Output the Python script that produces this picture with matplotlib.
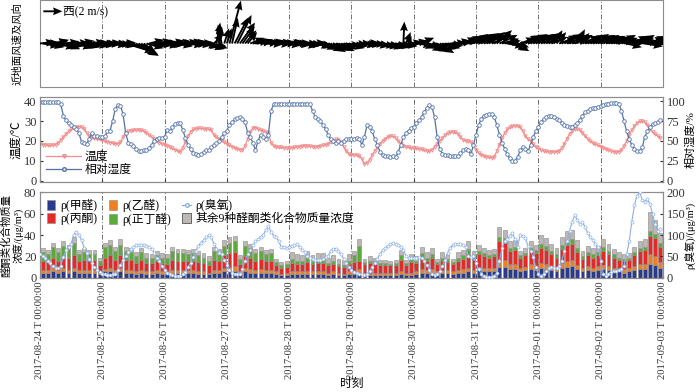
import numpy as np
import matplotlib
matplotlib.use("Agg")
import matplotlib.pyplot as plt
from matplotlib.patches import Patch
from matplotlib.lines import Line2D

plt.rcParams['font.family'] = ['Liberation Serif', 'Noto Sans CJK SC', 'DejaVu Sans']
plt.rcParams['axes.unicode_minus'] = False

days = ['2017-08-24', '2017-08-25', '2017-08-26', '2017-08-27', '2017-08-28',
        '2017-08-29', '2017-08-30', '2017-08-31', '2017-09-01', '2017-09-02', '2017-09-03']
tick_labels = [d + ' T 00:00:00' for d in days]

# hourly near-surface wind (m/s)
wind_u = [1.6,1.8,1.5,1.7,1.9,1.6,1.4,1.8,2.0,1.7,1.5,1.8,1.9,2.0,1.7,1.6,1.8,1.9,1.5,1.7,1.8,1.6,1.9,1.7,
          1.6,1.7,1.5,1.8,1.6,1.7,1.9,1.5,1.4,3.0,3.0,2.8,2.6,2.4,2.0,1.6,1.2,1.8,1.6,1.5,1.9,1.7,1.6,1.8,
          1.5,1.7,1.6,1.4,1.8,1.6,1.5,1.7,1.9,1.6,1.8,1.5,1.7,1.6,1.8,1.7,1.9,2.0,1.6,1.0,0.4,0.3,-0.4,0.5,
          0.5,1.2,0.6,1.4,1.5,1.6,1.3,1.2,1.0,1.5,1.7,1.8,1.6,1.9,1.7,1.8,1.6,1.5,1.8,1.7,1.9,1.6,1.8,1.7,
          1.6,1.8,1.7,1.5,1.9,1.7,1.8,1.6,1.7,1.9,1.8,1.6,1.7,1.9,1.8,1.7,1.6,1.8,1.9,1.7,1.6,1.8,1.9,1.7,
          1.7,1.5,1.6,1.8,1.7,1.6,1.5,1.7,1.8,1.6,1.9,2.0,1.8,1.9,2.0,1.8,1.9,1.7,2.0,1.8,0.1,0.5,0.3,1.2,
          1.5,1.7,1.6,1.4,1.8,1.6,1.5,1.7,1.6,1.8,1.7,1.9,1.8,1.6,1.7,1.9,1.8,2.0,1.9,1.8,1.7,1.9,1.8,1.6,
          1.8,1.7,1.9,1.6,1.8,1.7,2.0,1.8,1.6,1.9,1.8,1.7,1.8,1.9,1.6,1.5,1.2,1.6,1.8,1.7,1.9,1.8,1.7,1.9,
          1.7,1.9,1.8,1.6,1.8,1.7,0.9,1.0,1.8,1.7,1.9,1.8,1.6,1.7,1.9,0.8,1.0,1.8,1.7,1.9,1.8,1.7,1.9,1.8,
          1.8,1.7,1.9,1.8,1.6,1.7,1.9,1.8,1.7,1.9,1.6,1.8,1.7,1.9,1.8,1.6,1.7,1.9,1.8,1.7,1.6,1.9,1.8,1.7]
wind_v = [0.2,-0.3,0.1,-0.4,0.3,-0.2,0.4,-0.5,-0.3,0.2,-0.6,-0.2,0.1,-0.4,-0.5,0.3,-0.3,-0.2,-0.4,0.2,-0.3,0.1,-0.2,0.0,
          0.0,-0.1,0.1,-0.2,0.0,-0.1,0.1,-0.2,-0.3,-0.9,-1.0,-1.1,-1.2,-1.3,-1.2,-1.1,-0.9,-0.5,0.4,-0.3,0.3,-0.2,0.2,-0.3,
          0.1,-0.2,0.3,-0.1,0.2,-0.3,0.1,0.2,-0.2,0.3,-0.1,0.2,-0.2,0.1,-0.3,-0.4,-0.6,-0.5,-0.3,1.0,2.2,1.8,2.0,1.6,
          1.6,4.5,2.7,2.7,3.0,2.2,1.8,1.4,1.2,0.6,0.3,0.2,0.4,0.1,0.2,-0.1,0.2,0.3,-0.1,0.2,0.0,0.1,-0.2,0.1,
          0.2,0.0,-0.2,0.1,-0.3,0.0,-0.2,-0.1,0.1,-0.3,-0.2,-0.4,-0.6,-0.5,-0.8,-0.6,-0.9,-0.7,-0.5,-0.8,-0.6,-0.3,-0.5,-0.4,
          -0.1,-0.3,0.0,-0.2,-0.1,0.1,-0.2,-0.1,-0.3,-0.2,-0.3,-0.4,-0.3,-0.5,-0.4,-0.3,-0.4,-0.2,-0.3,-0.1,2.3,1.2,0.8,0.2,
          0.3,-0.2,0.6,-0.5,-0.3,-0.8,-0.6,-0.9,-0.7,-1.0,-0.6,-0.5,-0.3,-0.2,0.1,0.3,0.2,0.5,0.4,0.6,0.8,0.5,0.7,1.0,
          1.0,0.8,1.1,0.7,0.9,1.2,0.8,1.0,1.4,0.9,0.5,0.3,-0.3,-0.5,-0.6,-0.8,-0.4,0.6,0.8,0.9,0.7,1.0,0.8,0.9,
          1.0,0.9,1.1,0.8,1.0,0.7,1.4,1.2,0.6,0.9,1.0,0.7,0.8,0.5,0.9,1.5,1.1,0.8,0.6,0.9,0.7,1.0,0.8,0.9,
          0.7,0.9,0.6,0.8,0.5,0.7,0.4,0.9,0.6,0.3,-0.4,0.2,0.8,0.5,0.6,0.9,0.3,-0.3,0.6,0.8,0.4,-0.2,0.5,0.6]

# hourly temperature (degC) and relative humidity (%)
temp = [18.5,18.2,18.0,17.8,17.8,17.9,18.2,19.0,20.5,22.0,23.5,24.8,25.8,26.5,27.0,27.2,27.0,26.0,24.0,22.5,21.8,21.5,21.0,20.8,
        20.5,20.0,19.6,19.2,18.9,18.7,18.5,19.5,22.0,24.0,24.8,25.2,25.5,25.6,25.5,25.3,25.0,24.2,23.0,22.0,21.0,20.0,19.2,18.6,
        18.2,17.6,17.0,16.3,15.6,15.0,14.5,16.5,19.5,22.5,24.5,25.8,26.2,26.3,26.3,26.2,26.0,25.8,25.5,23.0,22.0,21.2,20.5,19.5,
        18.5,17.8,17.2,16.6,16.0,15.6,15.5,17.5,21.0,24.5,26.5,26.7,26.0,25.5,25.0,24.5,24.0,19.0,17.5,17.0,16.8,16.7,16.6,16.5,
        16.4,16.5,16.8,17.0,17.2,17.4,17.6,17.5,17.4,17.2,17.0,17.2,17.5,17.8,18.0,18.5,19.5,20.2,20.8,20.5,19.5,17.0,15.0,13.5,
        13.0,13.0,12.8,12.5,11.0,8.5,9.0,10.5,13.0,15.0,17.0,18.5,20.0,21.0,22.0,22.5,22.3,21.5,20.0,18.5,17.5,17.0,16.8,16.5,
        16.4,16.2,16.0,15.8,15.4,15.0,14.8,15.5,17.0,18.5,20.0,21.5,22.8,23.8,24.3,24.5,24.3,23.5,22.0,20.5,20.0,20.0,19.5,18.0,
        15.5,14.0,13.0,12.5,12.0,11.8,11.4,12.0,15.0,18.0,21.5,24.0,25.8,26.8,27.4,27.6,27.5,27.0,25.0,22.5,21.0,20.0,18.5,17.0,
        16.2,15.5,15.0,14.7,14.5,14.5,14.5,14.6,15.0,16.5,18.5,21.0,23.5,25.0,26.0,26.0,25.5,24.2,22.5,21.0,19.8,19.0,18.4,17.8,
        17.2,16.6,16.0,15.5,15.0,14.6,14.4,14.6,15.5,17.5,20.0,23.0,25.5,27.5,29.0,29.8,30.0,29.5,28.0,26.0,24.5,23.5,22.5,21.5]
rh = [99,99,99,99,99,99,99,99,96,82,76,72,70,68,65,60,49,47,46,53,60,56,56,55,
      55,56,62,63,75,90,95,94,84,60,48,46,44,40,37,37,38,38,41,45,50,53,54,54,
      55,64,62,67,71,72,72,64,54,45,40,35,33,32,33,36,38,38,42,45,47,50,55,60,
      63,70,74,77,79,80,78,74,60,55,48,38,50,58,55,52,58,88,96,97,97,97,97,97,
      97,97,97,97,97,97,97,97,96,88,80,78,75,70,65,58,52,50,47,50,48,50,52,53,
      53,53,54,53,45,55,70,68,62,52,45,36,32,31,31,30,31,30,36,45,55,60,63,66,
      68,72,76,80,86,92,95,93,80,55,40,34,32,32,31,31,31,31,35,38,40,38,33,45,
      58,70,78,82,83,84,84,80,70,58,48,40,33,28,25,25,30,38,42,40,37,45,55,62,
      68,74,78,80,81,81,80,78,76,73,70,69,68,67,70,72,76,82,86,88,90,91,92,93,
      94,95,96,97,98,98,98,96,88,75,62,52,45,40,37,37,42,55,62,68,71,72,74,76]

# hourly ozone (ug/m3)
ozone = [56,52,46,40,34,27,22,22,28,48,65,73,80,100,108,100,88,70,58,45,35,25,18,13,
         10,8,7,7,8,10,18,30,42,50,60,68,72,76,77,77,76,75,73,68,58,47,40,28,
         18,12,8,6,5,4,5,8,14,25,35,48,62,75,82,88,95,99,95,80,68,58,56,42,
         30,18,12,10,9,9,20,40,55,65,76,85,90,96,100,112,120,108,98,96,85,72,71,70,
         72,74,76,78,72,66,60,52,47,44,42,41,41,44,48,52,62,68,68,62,55,45,35,25,
         18,14,12,10,8,6,10,16,26,35,44,56,64,70,75,79,81,80,77,73,65,52,47,46,
         46,47,48,46,40,30,18,10,6,10,15,28,42,58,70,77,79,80,80,77,72,52,48,50,
         35,20,8,4,3,3,3,5,12,40,70,86,90,98,104,90,72,100,98,92,75,62,48,25,
         8,5,10,15,22,25,24,24,27,40,62,85,110,130,146,135,125,130,118,105,95,88,78,72,
         40,10,5,10,14,17,17,18,20,28,55,85,131,170,192,200,182,178,184,172,148,125,110,115]

# two-hourly carbonyl concentrations (ug/m3)
formaldehyde = [5,5,6,5,6,5,6,5,5,5,5,4, 6,6,5,6,5,5,4,5,4,4,5,4, 4,5,5,5,5,5,4,4,4,5,5,6,
                6,6,4,6,5,5,5,5,5,4,3,3, 4,4,4,4,4,4,4,3,4,3,3,4, 4,5,3,3,3,3,3,3,3,4,3,3,
                4,5,5,5,4,5,5,4,5,5,6,5, 7,6,6,6,10,10,8,8,6,7,8,7, 9,8,7,6,9,10,11,8,6,7,6,7,
                8,7,6,6,5,6,7,8,8,13,12,9]
acetaldehyde = [2,2,3,2,3,2,3,2,2,2,2,1, 2,3,2,3,2,2,2,2,2,2,2,2, 2,2,2,2,2,2,2,2,1,2,2,3,
                4,5,2,3,3,2,3,2,2,2,1,2, 2,2,2,2,2,2,2,2,2,2,1,2, 2,3,2,2,2,2,2,2,2,2,2,2,
                2,3,2,3,2,2,2,2,2,3,3,2, 3,3,3,3,8,7,5,5,3,3,5,4, 5,5,4,3,5,6,6,4,3,4,3,4,
                4,4,3,3,3,3,4,5,5,9,8,6]
acetone = [9,8,10,9,11,12,12,9,10,9,10,7, 11,12,10,12,10,10,8,10,8,8,9,8, 7,10,9,9,9,9,9,8,7,10,9,12,
           13,13,7,11,11,9,10,9,9,6,5,5, 8,7,7,9,7,8,8,7,7,6,6,7, 9,8,8,9,9,7,7,7,7,11,7,10,
           8,11,9,11,7,9,8,7,9,10,13,10, 12,11,10,11,16,16,12,13,10,11,12,12, 14,13,11,10,13,15,15,12,9,10,10,10,
           13,11,10,8,8,8,10,12,13,17,17,14]
butanal = [8,7,10,8,10,8,12,6,7,6,5,4, 10,10,8,10,8,7,6,7,5,5,5,5, 6,8,7,7,6,7,6,5,4,8,7,9,
           10,10,5,10,9,7,7,6,7,3,3,3, 4,3,3,4,3,3,3,2,3,2,2,3, 6,14,2,2,2,2,2,1,2,4,2,3,
           2,4,3,3,2,3,3,2,3,3,5,3, 3,3,2,2,4,4,3,3,2,2,3,3, 4,4,3,3,4,4,4,4,2,3,3,3,
           4,3,3,2,2,2,3,3,3,5,4,4]
others = [4,4,4,4,4,4,5,4,4,4,4,3, 4,4,4,5,4,4,4,4,4,3,4,4, 3,4,4,4,4,4,4,4,4,4,4,5,
          5,5,3,4,4,4,4,4,4,3,3,3, 6,6,5,6,5,6,6,5,5,5,5,6, 4,6,3,4,3,3,3,3,3,5,3,4,
          4,6,5,6,3,5,4,3,5,5,7,5, 6,5,5,5,9,8,6,6,4,5,6,5, 8,7,7,6,7,9,9,7,5,6,6,6,
          7,7,5,5,4,4,5,6,7,17,13,9]

hours = np.arange(len(temp))
bar_x = np.arange(1, 240, 2)
day_ticks = np.arange(0, 241, 24)

c_blue = '#2b3a8c'
c_orange = '#f07f22'
c_red = '#e42a27'
c_green = '#5bab3a'
c_gray = '#bdb8b4'
c_edge = '#8a8a8a'
c_temp = '#f28b8b'
c_rh = '#5272a6'
c_o3 = '#8db0e3'
c_spine = '#8c8c8c'


def style_spines(ax):
    for s in ax.spines.values():
        s.set_color(c_spine)
        s.set_linewidth(0.8)
    ax.tick_params(direction='in', length=2.5, labelsize=9, colors='#333333', pad=2.5)


fig = plt.figure(figsize=(7, 3.92), dpi=100)
ax1 = fig.add_axes([0.0571, 0.778, 0.89, 0.222])
ax2 = fig.add_axes([0.0571, 0.535, 0.89, 0.217])
ax3 = fig.add_axes([0.0571, 0.291, 0.89, 0.219])

for ax in (ax1, ax2, ax3):
    ax.set_xlim(0, 240)
    ax.set_xticks(day_ticks)
    for d in day_ticks[1:-1]:
        ax.axvline(d, color='#707070', lw=0.7, ls=(0, (5, 2, 1, 2)), zorder=0)
    style_spines(ax)

# wind panel
ax1.set_ylim(-1, 1)
ax1.set_yticks([])
ax1.tick_params(axis='x', labelbottom=False, length=0)
q = ax1.quiver(hours, np.zeros(len(hours)), wind_u, wind_v, angles='uv',
               scale_units='inches', scale=10.5, width=0.003, headwidth=4.2,
               headlength=5, headaxislength=4.5, color='black', zorder=3)
ax1.quiverkey(q, 0.036, 0.87, 2, '西(2 m/s)', labelpos='E', coordinates='axes',
              labelsep=0.01, fontproperties={'size': 8.5})
ax1.set_ylabel('近地面风速及风向', fontsize=7.5)
ax1.yaxis.set_label_coords(-0.028, 0.5)

# temperature / RH panel
ax2.plot(hours, temp, color=c_temp, lw=0.9, marker='v', ms=2.5, mfc='none', mew=0.6)
ax2.set_ylim(-0.8, 42)
ax2.set_yticks([0, 10, 20, 30, 40])
ax2.tick_params(axis='x', labelbottom=False)
ax2.set_ylabel('温度/℃', fontsize=8.5)
ax2.yaxis.set_label_coords(-0.028, 0.5)
ax2r = ax2.twinx()
ax2r.plot(hours, rh, color=c_rh, lw=0.9, marker='o', ms=2.6, mfc='white', mew=0.6)
ax2r.set_ylim(-2, 105)
ax2r.set_yticks([0, 25, 50, 75, 100])
style_spines(ax2r)
ax2r.set_ylabel('相对湿度/%', fontsize=8)
ax2r.yaxis.set_label_coords(1.036, 0.5)
h_leg = [Line2D([], [], color=c_temp, lw=0.9, marker='v', ms=2.5, mfc='none'),
         Line2D([], [], color=c_rh, lw=0.9, marker='o', ms=2.6, mfc='white')]
ax2.legend(h_leg, ['温度', '相对湿度'], loc='lower left', frameon=False, fontsize=8.5,
           handlelength=3, borderaxespad=0.1, labelspacing=0.1, handletextpad=0.3)

# carbonyl panel
bottom = np.zeros(len(bar_x))
for vals, col in [(formaldehyde, c_blue), (acetaldehyde, c_orange), (acetone, c_red),
                  (butanal, c_green), (others, c_gray)]:
    ax3.bar(bar_x, vals, width=1.5, bottom=bottom, color=col, edgecolor=c_edge,
            linewidth=0.4, zorder=2)
    bottom = bottom + np.array(vals)
ax3.set_ylim(0, 80)
ax3.set_yticks([0, 20, 40, 60, 80])
ax3.set_xticklabels(tick_labels, rotation=90, fontsize=7.6)
ax3.set_xlabel('时刻', fontsize=8.5, va='top')
ax3.xaxis.set_label_coords(0.5, -1.17)
ax3.set_ylabel('醛酮类化合物质量\n浓度/(μg/m³)', fontsize=7.5, linespacing=1.2)
ax3.yaxis.set_label_coords(-0.025, 0.5)
ax3r = ax3.twinx()
ax3r.plot(hours, ozone, color=c_o3, lw=0.8, marker='o', ms=2.2, mfc='white', mew=0.5, zorder=4)
ax3r.set_ylim(0, 200)
ax3r.set_yticks([0, 50, 100, 150, 200])
style_spines(ax3r)
ax3r.set_ylabel('ρ(臭氧)/(μg/m³)', fontsize=7.5)
ax3r.yaxis.set_label_coords(1.036, 0.5)

leg_h = [Patch(fc=c_blue, ec=c_edge, lw=0.4), Patch(fc=c_red, ec=c_edge, lw=0.4),
         Patch(fc=c_orange, ec=c_edge, lw=0.4), Patch(fc=c_green, ec=c_edge, lw=0.4),
         Line2D([], [], color=c_o3, lw=0.9, marker='o', ms=2.6, mfc='white'),
         Patch(fc=c_gray, ec='#555555', lw=0.6)]
leg_l = ['ρ(甲醛)', 'ρ(丙酮)', 'ρ(乙醛)', 'ρ(正丁醛)', 'ρ(臭氧)', '其余9种醛酮类化合物质量浓度']
ax3r.legend(leg_h, leg_l, ncol=3, loc='upper left', frameon=False, fontsize=8.5,
            handlelength=0.7, handleheight=0.9, columnspacing=1.0, labelspacing=0.05,
            borderaxespad=0.2, handletextpad=0.4)

fig.savefig('out.png', dpi=100)
